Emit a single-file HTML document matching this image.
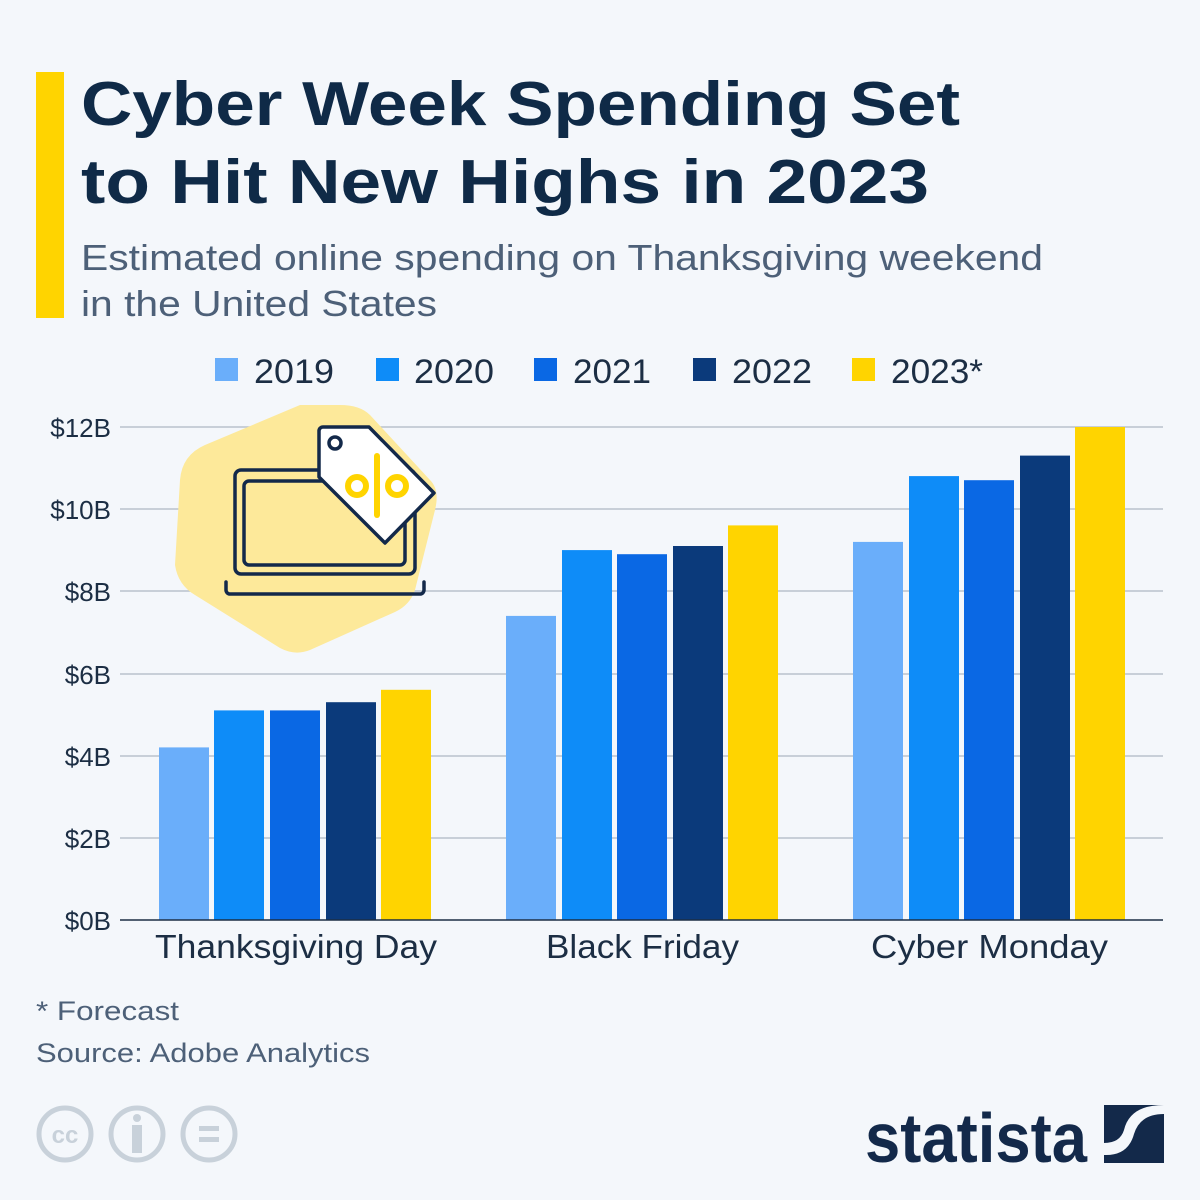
<!DOCTYPE html>
<html><head><meta charset="utf-8"><style>
body{margin:0;background:#f4f7fb}
svg{display:block}
text{font-family:"Liberation Sans","DejaVu Sans",sans-serif}
</style></head><body>
<svg width="1200" height="1200" viewBox="0 0 1200 1200" xmlns="http://www.w3.org/2000/svg">
<rect width="1200" height="1200" fill="#f4f7fb"/>
<rect x="36" y="72" width="28" height="246" fill="#ffd400"/>
<text x="81" y="125" font-size="62" font-weight="bold" fill="#0f2a47" textLength="879" lengthAdjust="spacingAndGlyphs">Cyber Week Spending Set</text>
<text x="81" y="203" font-size="62" font-weight="bold" fill="#0f2a47" textLength="848" lengthAdjust="spacingAndGlyphs">to Hit New Highs in 2023</text>
<text x="81" y="270" font-size="36" fill="#4d6078" textLength="962" lengthAdjust="spacingAndGlyphs">Estimated online spending on Thanksgiving weekend</text>
<text x="81" y="316" font-size="36" fill="#4d6078" textLength="356" lengthAdjust="spacingAndGlyphs">in the United States</text>
<g font-size="34" fill="#1c2e44">
<rect x="215" y="358" width="23" height="23" fill="#6aaefa"/><text x="254" y="383" textLength="80" lengthAdjust="spacingAndGlyphs">2019</text>
<rect x="376" y="358" width="23" height="23" fill="#0e8cf8"/><text x="414" y="383" textLength="80" lengthAdjust="spacingAndGlyphs">2020</text>
<rect x="534" y="358" width="23" height="23" fill="#0a68e4"/><text x="573" y="383" textLength="78" lengthAdjust="spacingAndGlyphs">2021</text>
<rect x="693" y="358" width="23" height="23" fill="#0b3a7b"/><text x="732" y="383" textLength="80" lengthAdjust="spacingAndGlyphs">2022</text>
<rect x="852" y="358" width="23" height="23" fill="#ffd400"/><text x="891" y="383" textLength="92" lengthAdjust="spacingAndGlyphs">2023*</text>
</g>
<g stroke="#b9c2cd" stroke-width="1.5">
<line x1="120" x2="1163" y1="427" y2="427"/><line x1="120" x2="1163" y1="509" y2="509"/>
<line x1="120" x2="1163" y1="591" y2="591"/><line x1="120" x2="1163" y1="674" y2="674"/>
<line x1="120" x2="1163" y1="756" y2="756"/><line x1="120" x2="1163" y1="838" y2="838"/>
</g>
<g font-size="26" fill="#1c2e44" text-anchor="end">
<text x="111" y="437">$12B</text><text x="111" y="519">$10B</text><text x="111" y="601">$8B</text>
<text x="111" y="684">$6B</text><text x="111" y="766">$4B</text><text x="111" y="848">$2B</text><text x="111" y="930">$0B</text>
</g>
<!-- icon -->
<path d="M300 405 L340 405 Q360 405 370 415 L430 480 Q440 490 435 510 L415 590 Q410 605 395 612 L310 650 Q295 656 280 648 L195 595 Q178 585 175 565 L180 480 Q182 455 205 445 Z" fill="#fde99a"/>
<g fill="none" stroke="#13294a" stroke-width="3.5" stroke-linejoin="round" stroke-linecap="round">
<rect x="235" y="470" width="180" height="104" rx="6"/>
<rect x="244" y="481" width="161" height="84" rx="5"/>
<path d="M226 582 v8 a4 4 0 0 0 4 4 h190 a4 4 0 0 0 4 -4 v-8"/>
<path d="M323 427 h46 l65 66 l-49 50 l-66 -66 v-46 a4 4 0 0 1 4 -4 z" fill="#fff"/>
<circle cx="335" cy="443" r="6"/>
</g>
<g fill="none" stroke="#ffd400" stroke-width="6" stroke-linecap="round">
<line x1="377" y1="456" x2="377" y2="515"/>
<circle cx="357" cy="486" r="9"/><circle cx="397" cy="486" r="9"/>
</g>
<!-- bars -->
<g>
<rect x="159" y="747.4" width="50" height="172.6" fill="#6aaefa"/>
<rect x="214" y="710.4" width="50" height="209.6" fill="#0e8cf8"/>
<rect x="270" y="710.4" width="50" height="209.6" fill="#0a68e4"/>
<rect x="326" y="702.2" width="50" height="217.8" fill="#0b3a7b"/>
<rect x="381" y="689.8" width="50" height="230.2" fill="#ffd400"/>
<rect x="506" y="615.9" width="50" height="304.1" fill="#6aaefa"/>
<rect x="562" y="550.1" width="50" height="369.9" fill="#0e8cf8"/>
<rect x="617" y="554.2" width="50" height="365.8" fill="#0a68e4"/>
<rect x="673" y="546" width="50" height="374" fill="#0b3a7b"/>
<rect x="728" y="525.4" width="50" height="394.6" fill="#ffd400"/>
<rect x="853" y="541.9" width="50" height="378.1" fill="#6aaefa"/>
<rect x="909" y="476.1" width="50" height="443.9" fill="#0e8cf8"/>
<rect x="964" y="480.2" width="50" height="439.8" fill="#0a68e4"/>
<rect x="1020" y="455.6" width="50" height="464.4" fill="#0b3a7b"/>
<rect x="1075" y="427" width="50" height="493" fill="#ffd400"/>
</g>
<line x1="120" x2="1163" y1="920" y2="920" stroke="#1c2e44" stroke-width="1.5"/>
<g font-size="33" fill="#1c2e44">
<text x="155" y="958" textLength="282" lengthAdjust="spacingAndGlyphs">Thanksgiving Day</text>
<text x="546" y="958" textLength="193" lengthAdjust="spacingAndGlyphs">Black Friday</text>
<text x="871" y="958" textLength="237" lengthAdjust="spacingAndGlyphs">Cyber Monday</text>
</g>
<text x="36" y="1020" font-size="27" fill="#4d6078" textLength="143" lengthAdjust="spacingAndGlyphs">* Forecast</text>
<text x="36" y="1062" font-size="27" fill="#4d6078" textLength="334" lengthAdjust="spacingAndGlyphs">Source: Adobe Analytics</text>
<g fill="none" stroke="#c8d1da" stroke-width="5">
<circle cx="65" cy="1134" r="26"/><circle cx="137" cy="1134" r="26"/><circle cx="209" cy="1134" r="26"/>
</g>
<text x="65" y="1143" font-size="24" font-weight="bold" fill="#c8d1da" text-anchor="middle">cc</text>
<circle cx="137" cy="1118" r="4" fill="#c8d1da"/><rect x="132" y="1125" width="10" height="28" fill="#c8d1da"/>
<rect x="199" y="1126" width="20" height="5" fill="#c8d1da"/><rect x="199" y="1137" width="20" height="5" fill="#c8d1da"/>
<text x="865" y="1162" font-size="70" font-weight="bold" fill="#13294a" textLength="222" lengthAdjust="spacingAndGlyphs">statista</text>
<rect x="1104" y="1105" width="60" height="58" fill="#13294a"/>
<path d="M1164 1114 Q1140 1114 1134 1134 Q1128 1156 1104 1155 L1104 1143 Q1120 1143 1124 1130 Q1130 1105 1164 1105 Z" fill="#f4f7fb"/>
</svg>
</body></html>
